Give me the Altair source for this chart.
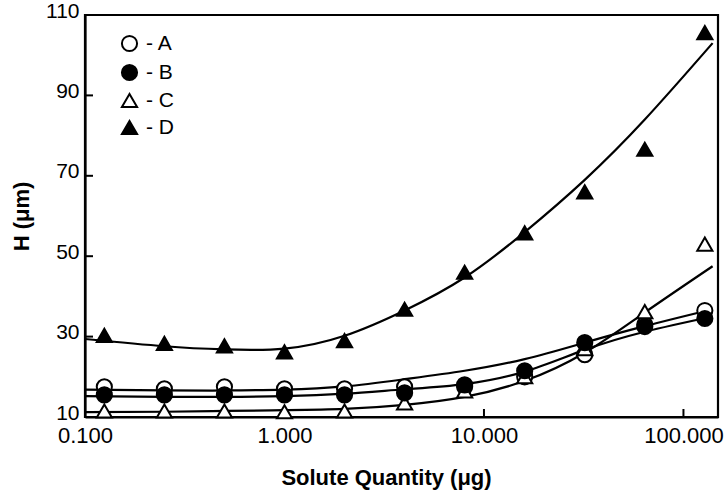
import altair as alt
import pandas as pd

quantity = [0.125, 0.25, 0.5, 1, 2, 4, 8, 16, 32, 64, 128]
h_a = [17.5, 17.0, 17.5, 17.0, 17.0, 17.5, 17.5, 20.0, 25.5, 33.0, 36.5]
h_b = [15.5, 15.5, 15.5, 15.5, 15.5, 16.0, 18.0, 21.5, 28.5, 32.5, 34.5]
h_c = [11.5, 11.5, 11.5, 11.3, 11.5, 13.5, 16.5, 20.0, 27.0, 36.2, 53.0]
h_d = [30.3, 28.3, 27.7, 26.2, 29.0, 36.8, 46.0, 55.8, 66.0, 76.6, 105.6]

# ---- smooth curves (knots) ----
curve_q = [0.1, 0.25, 0.5, 1, 2, 4, 8, 16, 32, 64, 140]
curve_a = [16.8, 16.6, 16.6, 16.8, 17.6, 19.4, 21.5, 24.4, 28.5, 32.6, 36.8]
curve_b = [15.2, 15.0, 15.0, 15.2, 15.8, 16.9, 18.2, 21.3, 26.7, 31.2, 35.0]
curve_c = [11.2, 11.3, 11.5, 11.7, 12.0, 13.0, 15.0, 19.0, 26.0, 36.0, 47.5]
curve_d = [29.4, 27.6, 26.8, 27.0, 30.2, 36.5, 44.7, 56.0, 69.0, 84.0, 103.0]

series_names = ["A", "B", "C", "D"]
draw_order = ["A", "C", "B", "D"]
shapes = ["circle", "circle", "triangle-up", "triangle-up"]
fills = ["white", "black", "white", "black"]
strokes = ["black", "black", "black", "black"]
sizes = [230, 230, 330, 330]

x_ticks = [0.1, 1, 10, 100]
inner_x_ticks = [1, 10, 100]
y_ticks = [10, 30, 50, 70, 90, 110]

point_vals = {"A": h_a, "B": h_b, "C": h_c, "D": h_d}
curve_vals = {"A": curve_a, "B": curve_b, "C": curve_c, "D": curve_d}

rows = []
for name in draw_order:
    for q, h in zip(quantity, point_vals[name]):
        rows.append({"series": name, "q": q, "h": h})
df = pd.DataFrame(rows)

crow = []
for name in series_names:
    for q, h in zip(curve_q, curve_vals[name]):
        crow.append({"series": name, "q": q, "h": h})
cdf = pd.DataFrame(crow)

W, H = 633, 402
FONT = "Liberation Sans"

x_scale = alt.Scale(type="log", domain=[0.1, 149], nice=False)
y_scale = alt.Scale(domain=[10, 110], nice=False, zero=False)

x_axis = alt.Axis(
    title="Solute Quantity (μg)", values=x_ticks, format=".3f", ticks=False,
    grid=False, domainColor="black", domainWidth=2.2, labelFont=FONT,
    labelFontSize=22, labelColor="black", labelPadding=8, labelFlush=False,
    titleFont=FONT, titleFontSize=22, titleFontWeight="bold", titleColor="black",
    titlePadding=21, titleX=301,
)
y_axis = alt.Axis(
    title="H (μm)", values=y_ticks, ticks=False, grid=False,
    domainColor="black", domainWidth=2.2, labelFont=FONT, labelFontSize=21,
    labelColor="black", labelPadding=6, labelFlush=False, labelOffset=-4,
    titleFont=FONT, titleFontSize=22, titleFontWeight="bold", titleColor="black",
    titlePadding=12,
)

legend = alt.Legend(
    title=None, orient="none", legendX=34, legendY=18, padding=0,
    labelExpr="'- ' + datum.label", labelFont=FONT, labelFontSize=21,
    labelColor="black", labelOffset=6, rowPadding=4,
    symbolStrokeWidth=2, symbolOpacity=1,
)

curves = (
    alt.Chart(cdf)
    .mark_line(color="black", strokeWidth=2.2, interpolate="natural", clip=True)
    .encode(
        x=alt.X("q:Q", scale=x_scale, axis=x_axis),
        y=alt.Y("h:Q", scale=y_scale, axis=y_axis),
        detail="series:N",
    )
)

points = (
    alt.Chart(df)
    .mark_point(filled=True, strokeWidth=2, opacity=1)
    .encode(
        x=alt.X("q:Q", scale=x_scale),
        y=alt.Y("h:Q", scale=y_scale),
        shape=alt.Shape("series:N", scale=alt.Scale(domain=series_names, range=shapes), legend=legend),
        fill=alt.Fill("series:N", scale=alt.Scale(domain=series_names, range=fills), legend=legend),
        stroke=alt.Stroke("series:N", scale=alt.Scale(domain=series_names, range=strokes), legend=legend),
        size=alt.Size("series:N", scale=alt.Scale(domain=series_names, range=sizes), legend=legend),
    )
)

ytick_df = pd.DataFrame({"v": y_ticks})
xtick_df = pd.DataFrame({"v": inner_x_ticks})

y_tick_marks = alt.Chart(ytick_df).mark_rule(color="black", strokeWidth=2).encode(
    y=alt.Y("v:Q", scale=y_scale), x=alt.value(0), x2=alt.value(8)
)
x_tick_marks = alt.Chart(xtick_df).mark_rule(color="black", strokeWidth=2).encode(
    x=alt.X("v:Q", scale=x_scale), y=alt.value(H), y2=alt.value(H - 8)
)

chart = (
    alt.layer(curves, y_tick_marks, x_tick_marks, points)
    .properties(
        width=W, height=H,
        autosize=alt.AutoSizeParams(type="none"),
        padding={"left": 85, "top": 15, "right": 6, "bottom": 79},
        background="white",
    )
    .configure_view(stroke="black", strokeWidth=2.2)
)

chart.save("out.html", embed_options={"renderer": "svg", "actions": False})
